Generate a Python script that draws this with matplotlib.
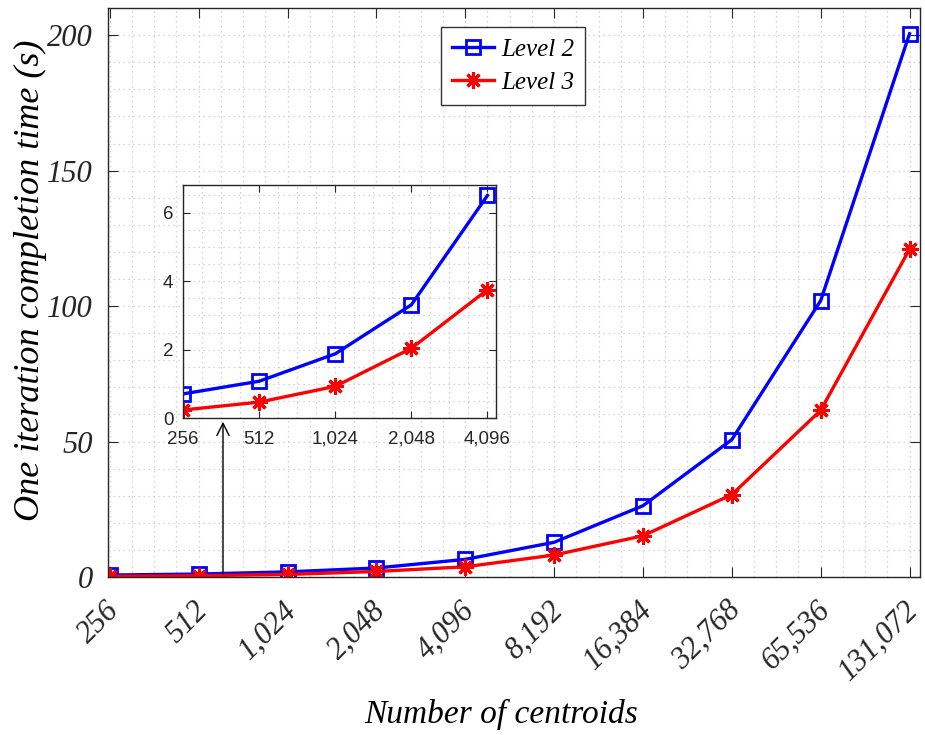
import matplotlib
matplotlib.use("Agg")
import matplotlib.pyplot as plt
import numpy as np
from matplotlib.ticker import MultipleLocator
from matplotlib.transforms import ScaledTranslation

categories = ["256", "512", "1,024", "2,048", "4,096", "8,192", "16,384", "32,768", "65,536", "131,072"]
level2 = [0.71, 1.08, 1.88, 3.31, 6.50, 12.8, 26.3, 50.7, 102.0, 200.5]
level3 = [0.24, 0.47, 0.93, 2.04, 3.75, 8.1, 15.2, 30.4, 61.5, 121.0]
inset_n = 5

serif = ["Liberation Serif", "DejaVu Serif"]
sans = ["Liberation Sans", "DejaVu Sans"]
spine_col = "#262626"
grid_col = "#c8c8c8"

fig = plt.figure(figsize=(9.25, 7.35), dpi=100)
ax = fig.add_axes([0.1168, 0.215, 0.878, 0.774])
x = np.arange(1, len(categories) + 1)

l2, = ax.plot(x, level2, color="#0000ff", lw=2.4, marker="s", ms=10, mfc="none", mew=2, label="Level 2")
l3, = ax.plot(x, level3, color="#ff0000", lw=2.4, marker=(8, 2, 0), ms=12, mew=2.2, label="Level 3")

ax.set_xlim(0.98, 10.12)
ax.set_ylim(0, 210)
ax.set_xticks(x)
ax.set_xticklabels(categories, rotation=45, ha="right", va="center", rotation_mode="anchor",
                   fontfamily=serif, fontstyle="italic", fontsize=22)
ax.yaxis.set_major_locator(MultipleLocator(50))
ax.yaxis.set_minor_locator(MultipleLocator(10))
ax.xaxis.set_minor_locator(MultipleLocator(0.25))
for lab in ax.get_yticklabels():
    lab.set_fontfamily(serif); lab.set_fontstyle("italic"); lab.set_fontsize(22)
ax.tick_params(which="major", direction="in", length=7, top=True, right=True, colors=spine_col)
ax.tick_params(axis="y", which="major", pad=11)
ax.tick_params(axis="x", which="major", pad=16)
ax.tick_params(which="minor", length=0)
ax.grid(which="both", color=grid_col, linestyle=(0, (1, 3)), linewidth=0.9)
for s in ax.spines.values():
    s.set_color(spine_col); s.set_linewidth(1.0)
ax.set_xlabel("Number of centroids", fontfamily=serif, fontstyle="italic", fontsize=24, va="center")
ax.xaxis.set_label_coords(0.484, -0.2425)
ax.set_ylabel("One iteration completion time (s)", fontfamily=serif, fontstyle="italic", fontsize=26, va="center")
ax.yaxis.set_label_coords(-0.096, 0.522)

leg = ax.legend(handles=[l2, l3], loc="upper left", bbox_to_anchor=(0.410, 0.9666),
                prop={"family": serif, "style": "italic", "size": 18}, fancybox=False,
                edgecolor="#333333", framealpha=1, handlelength=1.65, borderpad=0.45, labelspacing=0.42,
                handletextpad=0.3, borderaxespad=0)
leg.get_frame().set_linewidth(1.0)

# inset
ins = fig.add_axes([0.198, 0.431, 0.338, 0.317])
xi = x[:inset_n]
ins.plot(xi, level2[:inset_n], color="#0000ff", lw=2.4, marker="s", ms=9.5, mfc="none", mew=2)
ins.plot(xi, level3[:inset_n], color="#ff0000", lw=2.4, marker=(8, 2, 0), ms=12, mew=2.2)
ins.set_xlim(1, 5.11)
ins.set_ylim(0, 6.8)
ins.set_xticks(xi)
ins.set_xticklabels(categories[:inset_n], fontfamily=sans, fontsize=13.5)
ins.yaxis.set_major_locator(MultipleLocator(2))
ins.yaxis.set_minor_locator(MultipleLocator(0.5))
ins.xaxis.set_minor_locator(MultipleLocator(0.25))
for lab in ins.get_yticklabels():
    lab.set_fontfamily(sans); lab.set_fontsize(13.5)
ins.tick_params(which="major", direction="in", length=5, top=True, right=True, colors=spine_col)
ins.tick_params(axis="y", which="major", pad=7)
ins.tick_params(axis="x", which="major", pad=9)
ins.tick_params(which="minor", length=0)
ins.grid(which="both", color=grid_col, linestyle=(0, (1, 3)), linewidth=0.9)
for s in ins.spines.values():
    s.set_color(spine_col); s.set_linewidth(1.0)

# arrow from main axis to inset
ax.annotate("", xy=(223 / 925, (735 - 419) / 735), xycoords="figure fraction",
            xytext=(223 / 925, (735 - 577) / 735), textcoords="figure fraction",
            arrowprops=dict(arrowstyle="->", color="black", lw=1.0, mutation_scale=22))

# shift rotated main x tick labels slightly right/down
off = ScaledTranslation(0.05, -0.07, fig.dpi_scale_trans)
for lab in ax.get_xticklabels():
    lab.set_transform(lab.get_transform() + off)

fig.savefig("out.png", dpi=100)
